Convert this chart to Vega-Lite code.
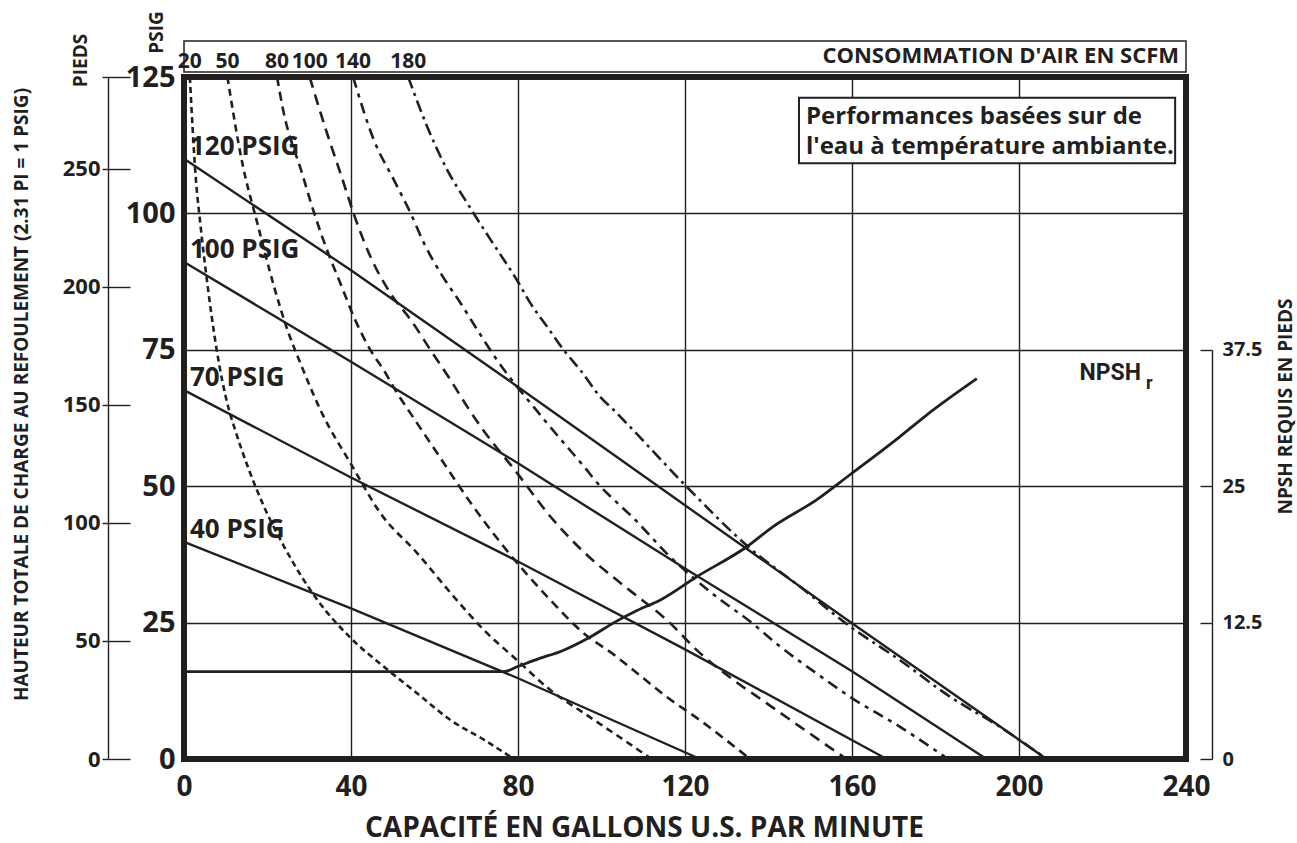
{
  "$schema": "https://vega.github.io/schema/vega-lite/v6.json",
  "width": 1002,
  "height": 682,
  "autosize": {"type": "none"},
  "padding": {"left": 184, "top": 77, "right": 111, "bottom": 84},
  "background": "white",
  "config": {
    "view": {"stroke": "#231f20", "strokeWidth": 6},
    "font": "Open Sans",
    "text": {"font": "Open Sans", "fontWeight": "bold", "color": "#231f20"},
    "axis": {
      "labelFont": "Open Sans", "labelFontWeight": "bold", "labelColor": "#231f20",
      "titleFont": "Open Sans", "titleFontWeight": "bold", "titleColor": "#231f20",
      "gridColor": "#231f20", "gridOpacity": 1, "gridWidth": 1.4,
      "domainColor": "#231f20", "tickColor": "#231f20",
      "labelFlush": false, "labelOverlap": false
    }
  },
  "datasets": {
    "psig": [
      {"s": "120 PSIG", "gpm": 0, "psi": 110},
      {"s": "120 PSIG", "gpm": 40, "psi": 89.6},
      {"s": "120 PSIG", "gpm": 80, "psi": 68.2},
      {"s": "120 PSIG", "gpm": 120, "psi": 46.5},
      {"s": "120 PSIG", "gpm": 160, "psi": 24.9},
      {"s": "120 PSIG", "gpm": 206.6, "psi": 0},
      {"s": "100 PSIG", "gpm": 0, "psi": 91.1},
      {"s": "100 PSIG", "gpm": 40, "psi": 72.8},
      {"s": "100 PSIG", "gpm": 80, "psi": 54.2},
      {"s": "100 PSIG", "gpm": 120, "psi": 34.9},
      {"s": "100 PSIG", "gpm": 160, "psi": 16.1},
      {"s": "100 PSIG", "gpm": 192.2, "psi": 0},
      {"s": "70 PSIG", "gpm": 0, "psi": 67.6},
      {"s": "70 PSIG", "gpm": 40, "psi": 51.6},
      {"s": "70 PSIG", "gpm": 80, "psi": 36.2},
      {"s": "70 PSIG", "gpm": 120, "psi": 20.1},
      {"s": "70 PSIG", "gpm": 168.3, "psi": 0},
      {"s": "40 PSIG", "gpm": 0, "psi": 39.8},
      {"s": "40 PSIG", "gpm": 40, "psi": 27.6},
      {"s": "40 PSIG", "gpm": 80, "psi": 14.8},
      {"s": "40 PSIG", "gpm": 123.6, "psi": 0}
    ],
    "scfm": [
      {"scfm": "20", "gpm": 1.4, "psi": 125},
      {"scfm": "20", "gpm": 2.8, "psi": 106.7},
      {"scfm": "20", "gpm": 4.0, "psi": 97.5},
      {"scfm": "20", "gpm": 5.6, "psi": 87.1},
      {"scfm": "20", "gpm": 7.6, "psi": 76.1},
      {"scfm": "20", "gpm": 10.8, "psi": 63.9},
      {"scfm": "20", "gpm": 12.0, "psi": 60.9},
      {"scfm": "20", "gpm": 19.2, "psi": 46.2},
      {"scfm": "20", "gpm": 24.0, "psi": 38.9},
      {"scfm": "20", "gpm": 31.9, "psi": 29.2},
      {"scfm": "20", "gpm": 39.9, "psi": 22.2},
      {"scfm": "20", "gpm": 47.9, "psi": 16.9},
      {"scfm": "20", "gpm": 55.9, "psi": 12.0},
      {"scfm": "20", "gpm": 63.9, "psi": 7.1},
      {"scfm": "20", "gpm": 71.9, "psi": 3.5},
      {"scfm": "20", "gpm": 79.0, "psi": 0},
      {"scfm": "50", "gpm": 10.4, "psi": 125},
      {"scfm": "50", "gpm": 14.0, "psi": 109.1},
      {"scfm": "50", "gpm": 17.6, "psi": 98.1},
      {"scfm": "50", "gpm": 21.6, "psi": 86.5},
      {"scfm": "50", "gpm": 24.8, "psi": 78.6},
      {"scfm": "50", "gpm": 27.9, "psi": 72.5},
      {"scfm": "50", "gpm": 33.1, "psi": 63.3},
      {"scfm": "50", "gpm": 39.9, "psi": 54.2},
      {"scfm": "50", "gpm": 47.1, "psi": 45.0},
      {"scfm": "50", "gpm": 55.9, "psi": 37.7},
      {"scfm": "50", "gpm": 63.9, "psi": 30.4},
      {"scfm": "50", "gpm": 71.9, "psi": 23.6},
      {"scfm": "50", "gpm": 79.8, "psi": 18.1},
      {"scfm": "50", "gpm": 87.8, "psi": 12.6},
      {"scfm": "50", "gpm": 95.8, "psi": 8.4},
      {"scfm": "50", "gpm": 103.0, "psi": 4.7},
      {"scfm": "50", "gpm": 112.0, "psi": 0},
      {"scfm": "80", "gpm": 22.3, "psi": 125},
      {"scfm": "80", "gpm": 23.6, "psi": 119.5},
      {"scfm": "80", "gpm": 28.3, "psi": 107.3},
      {"scfm": "80", "gpm": 31.5, "psi": 99.3},
      {"scfm": "80", "gpm": 34.3, "psi": 93.2},
      {"scfm": "80", "gpm": 37.5, "psi": 87.1},
      {"scfm": "80", "gpm": 40.7, "psi": 81.0},
      {"scfm": "80", "gpm": 44.7, "psi": 74.9},
      {"scfm": "80", "gpm": 47.9, "psi": 71.2},
      {"scfm": "80", "gpm": 51.1, "psi": 67.0},
      {"scfm": "80", "gpm": 54.3, "psi": 63.3},
      {"scfm": "80", "gpm": 60.7, "psi": 56.0},
      {"scfm": "80", "gpm": 68.7, "psi": 46.9},
      {"scfm": "80", "gpm": 76.6, "psi": 38.9},
      {"scfm": "80", "gpm": 87.8, "psi": 29.1},
      {"scfm": "80", "gpm": 95.8, "psi": 23.0},
      {"scfm": "80", "gpm": 103.0, "psi": 19.1},
      {"scfm": "80", "gpm": 107.6, "psi": 16.3},
      {"scfm": "80", "gpm": 115.6, "psi": 11.4},
      {"scfm": "80", "gpm": 123.6, "psi": 7.1},
      {"scfm": "80", "gpm": 135.6, "psi": 0},
      {"scfm": "100", "gpm": 30.1, "psi": 125},
      {"scfm": "100", "gpm": 34.3, "psi": 114.6},
      {"scfm": "100", "gpm": 37.5, "psi": 107.3},
      {"scfm": "100", "gpm": 41.5, "psi": 98.1},
      {"scfm": "100", "gpm": 44.7, "psi": 92.0},
      {"scfm": "100", "gpm": 49.5, "psi": 85.3},
      {"scfm": "100", "gpm": 54.3, "psi": 80.5},
      {"scfm": "100", "gpm": 59.1, "psi": 74.9},
      {"scfm": "100", "gpm": 63.9, "psi": 69.4},
      {"scfm": "100", "gpm": 67.9, "psi": 64.5},
      {"scfm": "100", "gpm": 71.1, "psi": 60.9},
      {"scfm": "100", "gpm": 79.8, "psi": 52.4},
      {"scfm": "100", "gpm": 87.8, "psi": 44.4},
      {"scfm": "100", "gpm": 95.8, "psi": 37.9},
      {"scfm": "100", "gpm": 103.0, "psi": 33.2},
      {"scfm": "100", "gpm": 107.6, "psi": 30.4},
      {"scfm": "100", "gpm": 115.6, "psi": 25.5},
      {"scfm": "100", "gpm": 123.6, "psi": 19.4},
      {"scfm": "100", "gpm": 131.6, "psi": 14.5},
      {"scfm": "100", "gpm": 139.6, "psi": 10.2},
      {"scfm": "100", "gpm": 147.6, "psi": 5.9},
      {"scfm": "100", "gpm": 158.7, "psi": 0},
      {"scfm": "140", "gpm": 40.5, "psi": 125},
      {"scfm": "140", "gpm": 45.5, "psi": 113.4},
      {"scfm": "140", "gpm": 50.3, "psi": 106.1},
      {"scfm": "140", "gpm": 54.3, "psi": 100.0},
      {"scfm": "140", "gpm": 57.5, "psi": 94.5},
      {"scfm": "140", "gpm": 61.5, "psi": 89.0},
      {"scfm": "140", "gpm": 66.3, "psi": 83.5},
      {"scfm": "140", "gpm": 70.3, "psi": 78.6},
      {"scfm": "140", "gpm": 75.0, "psi": 73.1},
      {"scfm": "140", "gpm": 79.8, "psi": 68.2},
      {"scfm": "140", "gpm": 83.8, "psi": 64.5},
      {"scfm": "140", "gpm": 87.0, "psi": 61.5},
      {"scfm": "140", "gpm": 91.8, "psi": 57.2},
      {"scfm": "140", "gpm": 95.8, "psi": 53.6},
      {"scfm": "140", "gpm": 99.8, "psi": 49.9},
      {"scfm": "140", "gpm": 103.0, "psi": 47.5},
      {"scfm": "140", "gpm": 107.6, "psi": 44.2},
      {"scfm": "140", "gpm": 115.6, "psi": 37.7},
      {"scfm": "140", "gpm": 127.6, "psi": 29.7},
      {"scfm": "140", "gpm": 135.6, "psi": 25.2},
      {"scfm": "140", "gpm": 142.8, "psi": 20.6},
      {"scfm": "140", "gpm": 151.5, "psi": 15.7},
      {"scfm": "140", "gpm": 159.5, "psi": 11.4},
      {"scfm": "140", "gpm": 171.5, "psi": 5.9},
      {"scfm": "140", "gpm": 183.0, "psi": 0},
      {"scfm": "180", "gpm": 53.7, "psi": 125},
      {"scfm": "180", "gpm": 58.3, "psi": 115.8},
      {"scfm": "180", "gpm": 63.1, "psi": 107.9},
      {"scfm": "180", "gpm": 67.9, "psi": 101.8},
      {"scfm": "180", "gpm": 73.5, "psi": 95.1},
      {"scfm": "180", "gpm": 79.8, "psi": 87.7},
      {"scfm": "180", "gpm": 83.0, "psi": 83.5},
      {"scfm": "180", "gpm": 87.0, "psi": 79.2},
      {"scfm": "180", "gpm": 91.0, "psi": 74.9},
      {"scfm": "180", "gpm": 95.0, "psi": 71.2},
      {"scfm": "180", "gpm": 99.8, "psi": 66.3},
      {"scfm": "180", "gpm": 103.0, "psi": 63.9},
      {"scfm": "180", "gpm": 106.8, "psi": 60.9},
      {"scfm": "180", "gpm": 120.4, "psi": 49.9},
      {"scfm": "180", "gpm": 135.6, "psi": 38.6},
      {"scfm": "180", "gpm": 147.5, "psi": 31.6},
      {"scfm": "180", "gpm": 159.5, "psi": 24.3},
      {"scfm": "180", "gpm": 171.5, "psi": 18.1},
      {"scfm": "180", "gpm": 183.5, "psi": 11.4},
      {"scfm": "180", "gpm": 195.4, "psi": 5.9},
      {"scfm": "180", "gpm": 206.6, "psi": 0}
    ],
    "npsh": [
      {"gpm": 0, "ft": 8.0},
      {"gpm": 76.6, "ft": 8.0},
      {"gpm": 79.8, "ft": 8.45},
      {"gpm": 85.0, "ft": 9.2},
      {"gpm": 90.2, "ft": 9.85},
      {"gpm": 97.4, "ft": 11.2},
      {"gpm": 103.0, "ft": 12.5},
      {"gpm": 108.5, "ft": 13.6},
      {"gpm": 114.0, "ft": 14.55},
      {"gpm": 122.8, "ft": 16.7},
      {"gpm": 134.8, "ft": 19.45},
      {"gpm": 141.1, "ft": 21.3},
      {"gpm": 151.5, "ft": 23.75},
      {"gpm": 159.5, "ft": 26.05},
      {"gpm": 171.5, "ft": 29.55},
      {"gpm": 177.8, "ft": 31.5},
      {"gpm": 189.9, "ft": 34.85}
    ],
    "pieds": [{"ft": 0}, {"ft": 288.75}]
  },
  "layer": [
    {
      "layer": [
        {
          "data": {"name": "psig"},
          "mark": {"type": "line", "color": "#231f20", "strokeWidth": 2.4},
          "encoding": {
            "x": {
              "field": "gpm", "type": "quantitative",
              "scale": {"domain": [0, 240], "nice": false, "zero": false},
              "axis": {
                "values": [0, 40, 80, 120, 160, 200, 240],
                "grid": true, "domain": false, "ticks": false,
                "labelFontSize": 28, "labelPadding": 36, "labelBaseline": "alphabetic",
                "title": "CAPACITÉ EN GALLONS U.S. PAR MINUTE",
                "titleFontSize": 28, "titleX": 460, "titleY": 77, "titleBaseline": "alphabetic", "titleAlign": "center"
              }
            },
            "y": {
              "field": "psi", "type": "quantitative",
              "scale": {"domain": [0, 125], "nice": false, "zero": false},
              "axis": {
                "values": [0, 25, 50, 75, 100, 125],
                "grid": true, "domain": false, "ticks": false,
                "labelFontSize": 29, "labelPadding": 9, "labelBaseline": "middle",
                "title": "PSIG", "titleFontSize": 19, "titleAngle": 270,
                "titleX": -28, "titleY": -45, "titleAlign": "center", "titleBaseline": "middle"
              }
            },
            "detail": {"field": "s"}
          }
        },
        {
          "data": {"name": "scfm"},
          "mark": {"type": "line", "color": "#231f20", "strokeWidth": 2.6, "interpolate": "monotone"},
          "encoding": {
            "x": {"field": "gpm", "type": "quantitative"},
            "y": {"field": "psi", "type": "quantitative"},
            "strokeDash": {
              "field": "scfm", "type": "nominal", "legend": null,
              "scale": {"domain": ["20", "50", "80", "100", "140", "180"], "range": [[6, 4], [7, 5], [9, 6], [11, 7], [11, 6, 4, 6], [12, 5, 3, 5]]}
            }
          }
        },
        {
          "data": {"name": "scfm"},
          "transform": [{"filter": "datum.psi == 125"}],
          "mark": {"type": "text", "fontSize": 21, "align": "center", "baseline": "middle", "dy": -15},
          "encoding": {
            "x": {"field": "gpm", "type": "quantitative"},
            "y": {"field": "psi", "type": "quantitative"},
            "text": {"field": "scfm"}
          }
        },
        {
          "data": {"name": "psig"},
          "transform": [{"filter": "datum.gpm == 0"}],
          "mark": {"type": "text", "fontSize": 26, "align": "left", "baseline": "alphabetic", "dx": 6, "dy": -4},
          "encoding": {
            "x": {"field": "gpm", "type": "quantitative"},
            "y": {"field": "psi", "type": "quantitative"},
            "text": {"field": "s"}
          }
        },
        {
          "data": {"values": [{}]},
          "mark": {"type": "rect", "fill": "white", "fillOpacity": 0, "stroke": "#231f20", "strokeWidth": 1.5},
          "encoding": {
            "x": {"datum": 0, "type": "quantitative"},
            "x2": {"datum": 240},
            "y": {"datum": 125.9, "type": "quantitative"},
            "y2": {"datum": 131.6}
          }
        },
        {
          "data": {"values": [{}]},
          "mark": {"type": "text", "text": "CONSOMMATION D'AIR EN SCFM", "fontSize": 22, "align": "right", "baseline": "middle", "dx": -7},
          "encoding": {
            "x": {"datum": 240, "type": "quantitative"},
            "y": {"datum": 128.76, "type": "quantitative"}
          }
        },
        {
          "data": {"values": [{}]},
          "mark": {"type": "rect", "fill": "white", "stroke": "#231f20", "strokeWidth": 2},
          "encoding": {
            "x": {"datum": 147.3, "type": "quantitative"},
            "x2": {"datum": 237.4},
            "y": {"datum": 109.2, "type": "quantitative"},
            "y2": {"datum": 121.2}
          }
        },
        {
          "data": {"values": [{}]},
          "mark": {"type": "text", "text": ["Performances basées sur de", "l'eau à température ambiante."], "fontSize": 24, "lineHeight": 30.5, "align": "left", "baseline": "alphabetic", "dx": 7},
          "encoding": {
            "x": {"datum": 147.3, "type": "quantitative"},
            "y": {"datum": 116.4, "type": "quantitative"}
          }
        },
        {
          "data": {"values": [{}]},
          "mark": {"type": "text", "text": "NPSH", "font": "Roboto", "fontSize": 23, "align": "right", "baseline": "alphabetic"},
          "encoding": {
            "x": {"datum": 229.2, "type": "quantitative"},
            "y": {"datum": 69.5, "type": "quantitative"}
          }
        },
        {
          "data": {"values": [{}]},
          "mark": {"type": "text", "text": "r", "font": "Roboto", "fontSize": 18, "align": "left", "baseline": "alphabetic", "dx": 5},
          "encoding": {
            "x": {"datum": 229.2, "type": "quantitative"},
            "y": {"datum": 67.9, "type": "quantitative"}
          }
        }
      ]
    },
    {
      "data": {"name": "pieds"},
      "mark": {"type": "point", "opacity": 0},
      "encoding": {
        "y": {
          "field": "ft", "type": "quantitative",
          "scale": {"domain": [0, 288.75], "nice": false, "zero": false},
          "axis": {
            "orient": "left", "offset": 76,
            "values": [0, 50, 100, 150, 200, 250, 288.75],
            "labelExpr": "datum.value > 260 ? '' : datum.label",
            "tickSize": -22, "tickWidth": 1.4, "domainWidth": 1.4,
            "labelPadding": 30, "labelFontSize": 22, "labelBaseline": "middle", "grid": false,
            "title": "HAUTEUR TOTALE DE CHARGE AU REFOULEMENT (2.31 PI = 1 PSIG)",
            "titleFontSize": 19, "titleAngle": 270, "titleX": -86.5, "titleY": 317,
            "titleAlign": "center", "titleBaseline": "middle"
          }
        }
      }
    },
    {
      "data": {"name": "pieds"},
      "mark": {"type": "point", "opacity": 0},
      "encoding": {
        "y": {
          "field": "ft", "type": "quantitative",
          "scale": {"domain": [0, 288.75], "nice": false, "zero": false},
          "axis": {
            "orient": "left", "offset": 76,
            "values": [0, 50, 100, 150, 200, 250, 288.75],
            "tickSize": 6, "tickWidth": 1.4, "labels": false, "domain": false, "grid": false,
            "title": "PIEDS", "titleFontSize": 19, "titleAngle": 270, "titleX": -27.3, "titleY": -17,
            "titleAlign": "center", "titleBaseline": "middle"
          }
        }
      }
    },
    {
      "data": {"name": "npsh"},
      "mark": {"type": "line", "color": "#231f20", "strokeWidth": 2.8, "interpolate": "monotone"},
      "encoding": {
        "x": {"field": "gpm", "type": "quantitative"},
        "y": {
          "field": "ft", "type": "quantitative",
          "scale": {"domain": [0, 37.5], "range": [682, 272.8], "nice": false, "zero": false},
          "axis": {
            "orient": "right", "offset": 26,
            "values": [0, 12.5, 25, 37.5], "format": ".1~f",
            "tickSize": -12, "tickWidth": 1.4, "domainWidth": 1.4,
            "labelPadding": 22, "labelFontSize": 20, "labelAlign": "left", "labelBaseline": "middle", "grid": false,
            "title": "NPSH REQUIS EN PIEDS", "titleFontSize": 19, "titleAngle": 270,
            "titleX": 73.5, "titleY": 329, "titleAlign": "center", "titleBaseline": "middle"
          }
        }
      }
    }
  ],
  "resolve": {"scale": {"y": "independent"}, "axis": {"y": "independent"}}
}
